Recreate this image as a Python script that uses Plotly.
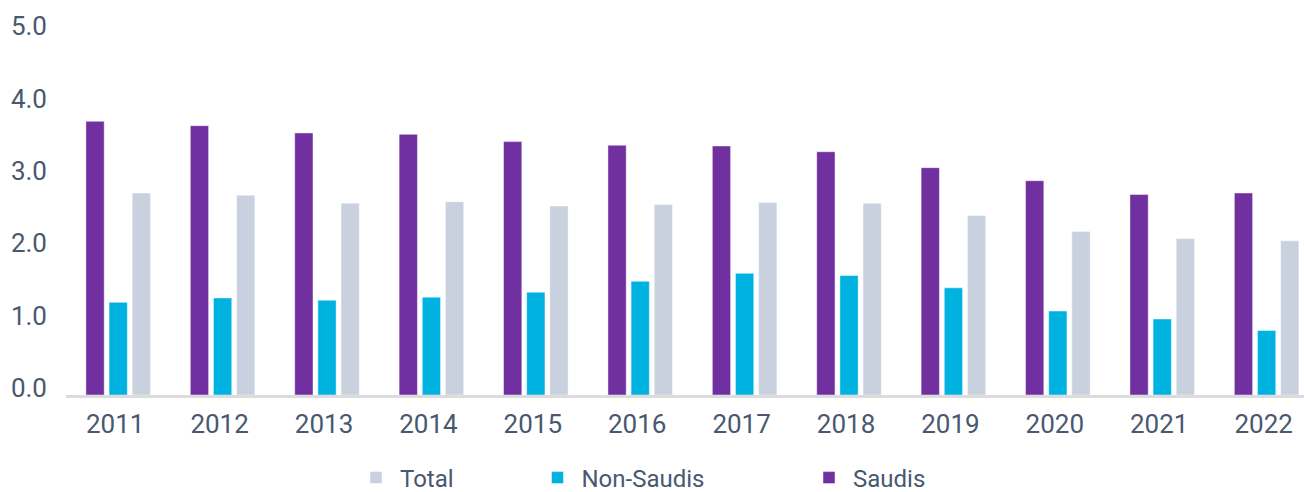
import plotly.graph_objects as go

years = ["2011", "2012", "2013", "2014", "2015", "2016", "2017", "2018", "2019", "2020", "2021", "2022"]
saudis = [3.78, 3.72, 3.62, 3.60, 3.50, 3.45, 3.44, 3.36, 3.14, 2.96, 2.77, 2.79]
non_saudis = [1.28, 1.34, 1.31, 1.35, 1.42, 1.57, 1.68, 1.65, 1.48, 1.16, 1.05, 0.89]
total = [2.79, 2.76, 2.65, 2.67, 2.61, 2.63, 2.66, 2.65, 2.48, 2.26, 2.16, 2.13]
y_ticks = [0, 1, 2, 3, 4, 5]
y_tick_labels = ["0.0", "1.0", "2.0", "3.0", "4.0", "5.0"]

TXT = "#485870"
FONT = "Roboto, 'Open Sans', sans-serif"

W, H = 1304, 492
ML, MR, MT, MB = 66, 0, 20, 97
plot_w = W - ML - MR
plot_h = H - MT - MB


def lx(px):
    return (px - ML) / plot_w


def ly(py):
    return (H - MB - py) / plot_h


fig = go.Figure()
fig.add_trace(go.Bar(x=years, y=saudis, name="Saudis", marker_color="#7030A0",
                     marker_line=dict(color="rgba(255,255,255,0.45)", width=1), legend="legend3"))
fig.add_trace(go.Bar(x=years, y=non_saudis, name="Non-Saudis", marker_color="#00B2E0",
                     marker_line=dict(color="rgba(255,255,255,0.45)", width=1), legend="legend2"))
fig.add_trace(go.Bar(x=years, y=total, name="Total", marker_color="#C9D1DF",
                     marker_line=dict(color="rgba(255,255,255,0.45)", width=1), legend="legend"))

leg_common = dict(orientation="h", xanchor="left", yanchor="middle", itemwidth=38,
                  font=dict(family=FONT, size=24, color=TXT), bgcolor="rgba(0,0,0,0)",
                  borderwidth=0, visible=True)

fig.update_layout(
    width=W, height=H,
    showlegend=True,
    margin=dict(l=ML, r=MR, t=MT, b=MB, pad=0, autoexpand=False),
    paper_bgcolor="white", plot_bgcolor="white",
    barmode="group", bargap=0.335, bargroupgap=0.21,
    font=dict(family=FONT, size=26, color=TXT),
    legend=dict(x=lx(352), y=ly(478), **leg_common),
    legend2=dict(x=lx(533.5), y=ly(478), **leg_common),
    legend3=dict(x=lx(805), y=ly(478), **leg_common),
    xaxis=dict(type="category", range=[-0.5, 11.358], showline=True, linecolor="#DCDCDC",
               linewidth=3, ticks="", showgrid=False, zeroline=False, automargin=False,
               tickfont=dict(family=FONT, size=26, color=TXT), ticklabelstandoff=4,
               ticklabelshift=-3),
    yaxis=dict(range=[0, plot_h / 72.4], tickvals=y_ticks, ticktext=y_tick_labels,
               showgrid=False, zeroline=False, showline=False, ticks="", automargin=False,
               tickfont=dict(family=FONT, size=26, color=TXT), ticklabelstandoff=18,
               ticklabelshift=-7),
)

fig.write_html("out.html", config={"displayModeBar": False},
               post_script="document.body.style.margin='0';document.body.style.overflow='hidden';")
